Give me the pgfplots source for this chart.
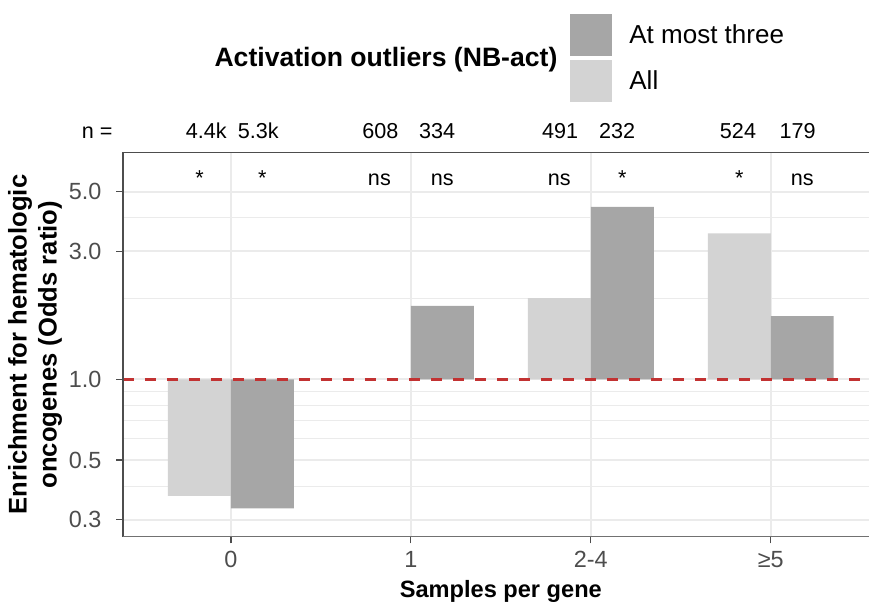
\documentclass[border=0pt]{standalone}
\usepackage{fontspec}
\setmainfont{Liberation Sans}
\usepackage{pgfplots}
\pgfplotsset{compat=1.18}
\definecolor{barall}{HTML}{D3D3D3}
\definecolor{barthree}{HTML}{A6A6A6}
\definecolor{gridc}{HTML}{EBEBEB}
\definecolor{axiscol}{HTML}{4D4D4D}
\definecolor{labcol}{HTML}{4D4D4D}
\definecolor{refred}{HTML}{C23232}

\begin{document}
\begin{tikzpicture}
\useasboundingbox (0,0) rectangle (434.5pt,302.5pt);
\begin{axis}[
  at={(61.5pt,34.15pt)}, anchor=south west,
  scale only axis, width=373pt, height=192pt,
  clip=false,
  ymode=log, log origin y=0,
  ymin=0.259, ymax=7.0,
  xmin=-0.6, xmax=3.546,
  ytick={0.3,0.5,1,3,5}, yticklabels={0.3,0.5,1.0,3.0,5.0},
  minor ytick={0.4,0.6,0.7,0.8,0.9,2,4},
  xtick={0,1,2,3}, xticklabels={0,1,2-4,≥5},
  grid=both,
  major grid style={draw=gridc, line width=1pt},
  minor grid style={draw=gridc, line width=0.5pt},
  axis line style={draw=none},
  tick align=outside, major tick length=3.3pt, minor tick length=0pt,
  tick style={axiscol, line width=0.6pt},
  xtick pos=bottom, ytick pos=left,
  tick label style={font=\fontsize{11.7}{14}\selectfont, text=labcol},
  yticklabel style={xshift=-4pt},
  xticklabel style={yshift=-0.5pt},
  every axis y label/.style={at={(rel axis cs:0,0.5)}, xshift=-44pt,
    rotate=90, anchor=center, align=center,
    font=\fontsize{12.8}{15}\selectfont\bfseries},
  every axis x label/.style={at={(rel axis cs:0.5065,0)}, yshift=-27.5pt,
    anchor=center, font=\fontsize{11.8}{14}\selectfont\bfseries},
  ylabel={Enrichment for hematologic\\oncogenes (Odds ratio)},
  xlabel={Samples per gene},
  legend style={at={(rel axis cs:0.5992,1.3612)}, anchor=north west,
    draw=none, fill=none, inner sep=0pt, row sep=2pt, column sep=8.5pt,
    font=\fontsize{13}{15}\selectfont, nodes={inner sep=0pt},
    cells={anchor=west}},
  reverse legend,
]
\addplot[ybar, bar width=0.35, bar shift=-0.175, fill=barall, draw=none,
  legend image code/.code={\fill[barall] (0pt,-10.5pt) rectangle (21pt,10.5pt);}]
  coordinates {(0,0.368) (2,2.01) (3,3.50)};
\addlegendentry{All}
\addplot[ybar, bar width=0.35, bar shift=0.175, fill=barthree, draw=none,
  legend image code/.code={\fill[barthree] (0pt,-10.5pt) rectangle (21pt,10.5pt);}]
  coordinates {(0,0.330) (1,1.88) (2,4.40) (3,1.72)};
\addlegendentry{At most three}
\addplot[forget plot, refred, line width=1.6pt, dash pattern=on 5.5pt off 5.5pt]
  coordinates {(-0.6,1) (3.546,1)};

% axis frame: left, top, bottom
\draw[axiscol, line width=0.75pt] (rel axis cs:0,0) -- (rel axis cs:0,1) -- (rel axis cs:1,1);
\draw[axiscol!80, line width=0.75pt] (rel axis cs:0,0) -- (rel axis cs:1,0);

% legend title
\node[font=\fontsize{13.3}{15}\selectfont\bfseries] at (rel axis cs:0.3525,1.2414)
  {Activation outliers (NB-act)};

% counts
\begin{scope}[every node/.style={anchor=base, font=\fontsize{10.8}{12}\selectfont}]
\node at (axis cs:-0.743,7.91) {n =};
\node at (axis cs:-0.137,7.91) {4.4k};
\node at (axis cs:0.152,7.91) {5.3k};
\node at (axis cs:0.83,7.91) {608};
\node at (axis cs:1.146,7.91) {334};
\node at (axis cs:1.829,7.91) {491};
\node at (axis cs:2.146,7.91) {232};
\node at (axis cs:2.818,7.91) {524};
\node at (axis cs:3.149,7.91) {179};
% significance
\node at (axis cs:-0.175,5.26) {*};
\node at (axis cs:0.175,5.26) {*};
\node at (axis cs:0.825,5.26) {ns};
\node at (axis cs:1.175,5.26) {ns};
\node at (axis cs:1.825,5.26) {ns};
\node at (axis cs:2.175,5.26) {*};
\node at (axis cs:2.825,5.26) {*};
\node at (axis cs:3.175,5.26) {ns};
\end{scope}
\end{axis}
\end{tikzpicture}
\end{document}
